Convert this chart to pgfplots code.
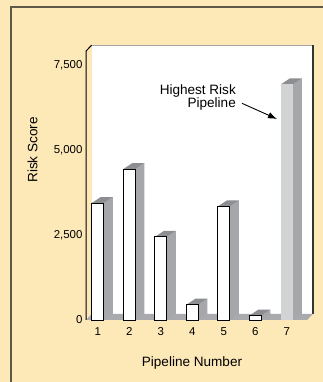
\documentclass[border=0pt]{standalone}
\usepackage{fontspec}
\setmainfont{Liberation Sans}
\usepackage{pgfplots}
\usepackage{pgfplotstable}
\pgfplotsset{compat=1.18}
\usetikzlibrary{arrows.meta}
\definecolor{cream}{HTML}{FDE8B8}
\definecolor{framecol}{HTML}{5E5848}
\definecolor{sidegray}{HTML}{A5A7AA}
\definecolor{topgray}{HTML}{8C8E91}
\definecolor{floorgray}{HTML}{A8AAAD}
\definecolor{hibar}{HTML}{D1D3D4}

\pgfplotstableread{
x y
1 3450
2 4450
3 2450
4 450
5 3350
6 130
7 6950
}\riskdata

\begin{document}
\begin{tikzpicture}[x=1bp,y=1bp]
\fill[cream] (0,0) rectangle (323,382);
\useasboundingbox (0,0) rectangle (323,382);
\draw[framecol, line width=2bp] (11,-5) -- (11,375) -- (330,375);
\begin{axis}[
  at={(86bp,62bp)}, anchor=south west, scale only axis,
  width=221.1bp, height=268.9bp,
  xmin=0.626, xmax=7.64, ymin=0, ymax=7930,
  clip=false,
  axis line style={draw=none},
  major tick length=0pt,
  xtick={1,...,7}, ytick={0,2500,5000,7500},
  scaled y ticks=false,
  /pgf/number format/1000 sep={,},
  /pgf/number format/assume math mode=true,
  tick label style={font=\fontsize{11.5}{13}\selectfont},
  xticklabel style={yshift=-4bp},
]
% back wall
\addplot[fill=white, draw=none] coordinates {(0.806,177) (7.82,177) (7.82,8107) (0.806,8107)};
\addplot[draw=gray!70, line width=1bp] coordinates {(0.806,8107) (7.82,8107)};
\addplot[draw=black!80, line width=1.5bp] coordinates {(7.82,8107) (7.82,177)};
% floor
\addplot[fill=floorgray, draw=none] coordinates {(0.626,0) (0.806,177) (7.82,177) (7.64,0)};
% left axis line
\addplot[black, line width=1bp] coordinates {(0.626,0) (0.626,7930) (0.806,8107)};
% bar sides and tops
\pgfplotsinvokeforeach{0,...,6}{
 \pgfplotstablegetelem{#1}{x}\of\riskdata \let\bx=\pgfplotsretval
 \pgfplotstablegetelem{#1}{y}\of\riskdata \let\by=\pgfplotsretval
 \pgfmathsetmacro\xl{\bx-0.19}
 \pgfmathsetmacro\xr{\bx+0.19}
 \pgfmathsetmacro\xlb{\xl+0.285}
 \pgfmathsetmacro\xrb{\xr+0.285}
 \pgfmathsetmacro\yb{\by+177}
 \edef\temp{\noexpand\addplot[fill=sidegray,draw=none] coordinates {(\xr,0) (\xrb,177) (\xrb,\yb) (\xr,\by)};
   \noexpand\addplot[fill=topgray,draw=none] coordinates {(\xl,\by) (\xlb,\yb) (\xrb,\yb) (\xr,\by)};}
 \temp
}
% front faces
\addplot[ybar, bar width=0.38, fill=white, draw=black, line width=0.9bp, restrict x to domain=1:6] table[x=x,y=y]{\riskdata};
\addplot[ybar, bar width=0.38, fill=hibar, draw=none, restrict x to domain=7:7] table[x=x,y=y]{\riskdata};
\end{axis}
\node[anchor=base east, inner sep=0, font=\fontsize{13.6}{14}\selectfont] at (236,288) {Highest Risk};
\node[anchor=base east, inner sep=0, font=\fontsize{13.6}{14}\selectfont] at (236,274.3) {Pipeline};
\draw[-{Latex[length=9bp,width=6.5bp]}, line width=0.9bp] (242,278.7) -- (277,263);
\node[rotate=90, anchor=base, inner sep=0, font=\fontsize{13.6}{14}\selectfont] at (37.3,232) {Risk Score};
\node[anchor=base, inner sep=0, font=\fontsize{13.6}{14}\selectfont] at (192,15.3) {Pipeline Number};
\end{tikzpicture}
\end{document}
